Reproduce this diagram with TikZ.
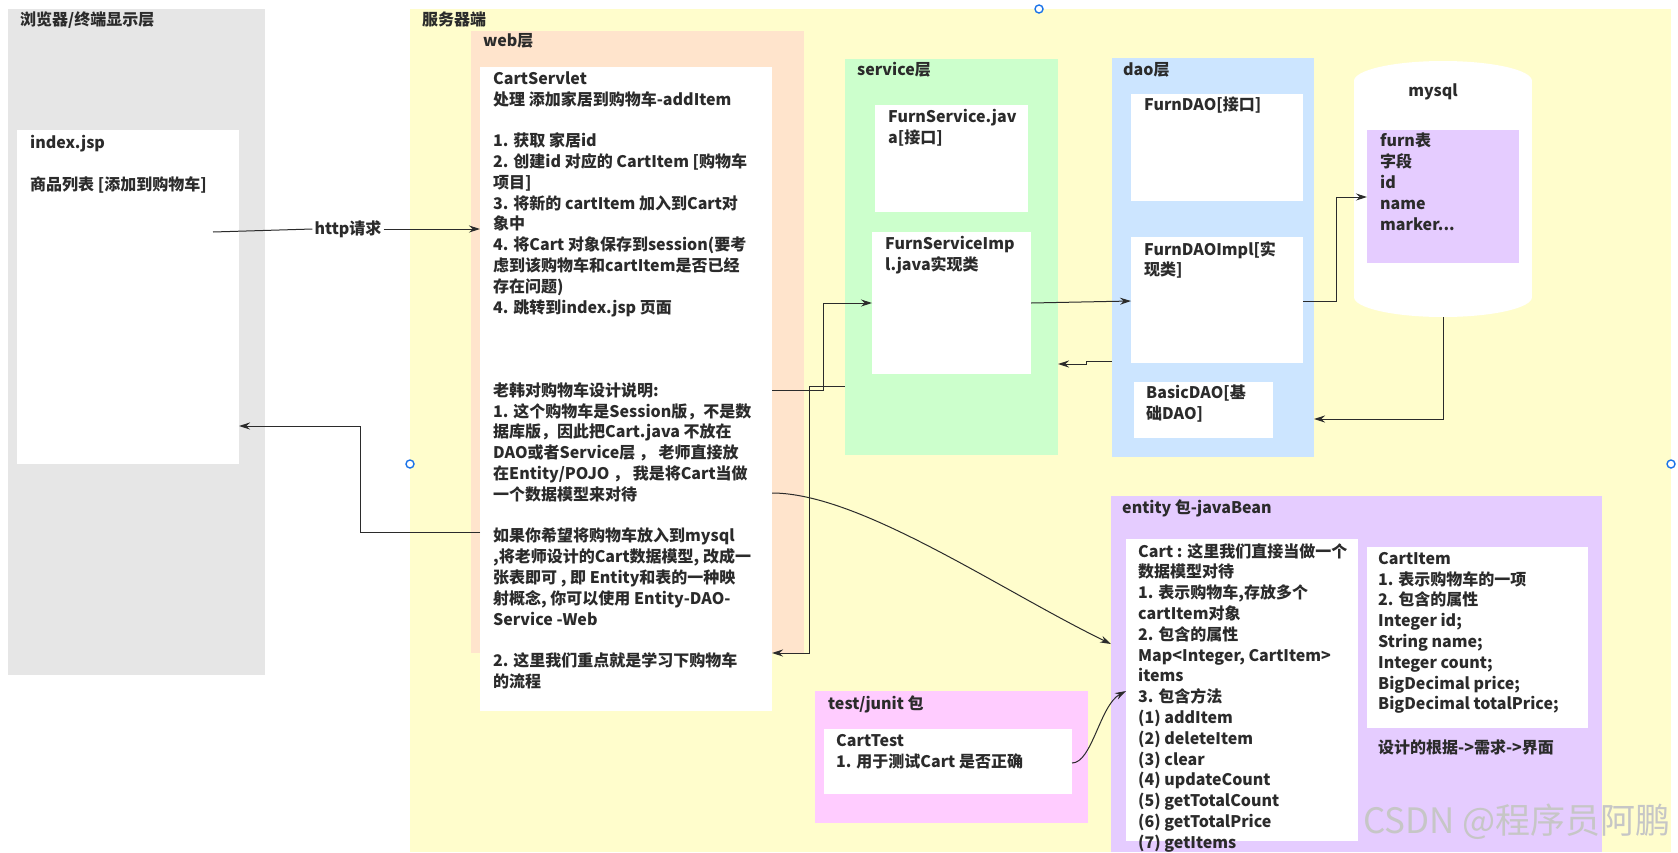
\documentclass[tikz,border=0pt]{standalone}
\usepackage{fontspec}
\setmainfont{Noto Sans CJK SC}
\usetikzlibrary{arrows.meta}
\definecolor{ink}{HTML}{2B2B2B}
\definecolor{browsergray}{HTML}{E6E6E6}
\definecolor{serveryellow}{HTML}{FFFDCC}
\definecolor{webpeach}{HTML}{FFE4CC}
\definecolor{svcgreen}{HTML}{CCFFCC}
\definecolor{daoblue}{HTML}{CCE5FF}
\definecolor{entpurple}{HTML}{E5CCFF}
\definecolor{testpink}{HTML}{FFCCFF}
\definecolor{handleblue}{HTML}{1A73E8}
\newcommand\topstrut{\rule{0pt}{13pt}}
\tikzset{
  panel/.style={anchor=north west, inner sep=0pt, outer sep=0pt},
  txt/.style={anchor=north west, inner sep=0pt, align=left, text=ink, font=\bfseries\fontsize{16}{20.8}\selectfont},
  wire/.style={draw=ink, line width=1pt},
  arr/.style={wire, -{Stealth[length=11pt, width=7pt]}},
  handle/.style={draw=handleblue, line width=1.4pt, fill=white}
}
\begin{document}
\begin{tikzpicture}[x=1pt, y=-1pt]
\useasboundingbox (0,0) rectangle (1678,852);
\fill[white] (0,0) rectangle (1678,852);
% browser side
\node[panel, fill=browsergray, minimum width=257pt, minimum height=666pt] (browser) at (8,9) {};
\node[txt] (browserlbl) at (20,12) {\topstrut 浏览器/终端显示层};
\node[panel, fill=white, minimum width=222pt, minimum height=334pt] (index) at (17,130) {};
\node[txt] (indextxt) at (30,135) {\topstrut index.jsp\\[20.8pt] 商品列表 [添加到购物车]};
% server side
\node[panel, fill=serveryellow, minimum width=1261pt, minimum height=843pt] (server) at (410,9) {};
\node[txt] (serverlbl) at (422,12) {\topstrut 服务器端};
% web layer
\node[panel, fill=webpeach, minimum width=333pt, minimum height=622pt] (web) at (471,31) {};
\node[txt] (weblbl) at (483,33) {\topstrut web层};
\node[panel, fill=white, minimum width=292pt, minimum height=644pt] (servlet) at (480,67) {};
\node[txt] (servlettxt) at (493,71) {\topstrut CartServlet\\
处理 添加家居到购物车-addItem\\[20.8pt]
1. 获取 家居id\\
2. 创建id 对应的 CartItem [购物车\\
项目]\\
3. 将新的 cartItem 加入到Cart对\\
象中\\
4. 将Cart 对象保存到session(要考\\
虑到该购物车和cartItem是否已经\\
存在问题)\\
4. 跳转到index.jsp 页面\\[62.4pt]
老韩对购物车设计说明:\\
1. 这个购物车是Session版，不是数\\
据库版，因此把Cart.java 不放在\\
DAO或者Service层 ， 老师直接放\\
在Entity/POJO ， 我是将Cart当做\\
一个数据模型来对待\\[20.8pt]
如果你希望将购物车放入到mysql\\
,将老师设计的Cart数据模型, 改成一\\
张表即可 , 即 Entity和表的一种映\\
射概念, 你可以使用 Entity-DAO-\\
Service -Web\\[20.8pt]
2. 这里我们重点就是学习下购物车\\
的流程};
% service layer
\node[panel, fill=svcgreen, minimum width=213pt, minimum height=396pt] (service) at (845,59) {};
\node[txt] (servicelbl) at (857,62) {\topstrut service层};
\node[panel, fill=white, minimum width=153pt, minimum height=107pt] (fsvc) at (875,105) {};
\node[txt] (fsvctxt) at (888,109) {\topstrut FurnService.jav\\ a[接口]};
\node[panel, fill=white, minimum width=159pt, minimum height=142pt] (fsvcimpl) at (872,232) {};
\node[txt] (fsvcimpltxt) at (885,236) {\topstrut FurnServiceImp\\ l.java实现类};
% dao layer
\node[panel, fill=daoblue, minimum width=202pt, minimum height=399pt] (dao) at (1112,58) {};
\node[txt] (daolbl) at (1123,62) {\topstrut dao层};
\node[panel, fill=white, minimum width=172pt, minimum height=107pt] (fdao) at (1131,94) {};
\node[txt] (fdaotxt) at (1144,97) {\topstrut FurnDAO[接口]};
\node[panel, fill=white, minimum width=172pt, minimum height=126pt] (fdaoimpl) at (1131,237) {};
\node[txt] (fdaoimpltxt) at (1144,241) {\topstrut FurnDAOImpl[实\\ 现类]};
\node[panel, fill=white, minimum width=139pt, minimum height=56pt] (basicdao) at (1134,382) {};
\node[txt] (basicdaotxt) at (1146,385) {\topstrut BasicDAO[基\\ 础DAO]};
% mysql cylinder
\fill[white] (1354,81) rectangle (1532,297);
\fill[white] (1443,81) ellipse [x radius=89pt, y radius=20pt];
\fill[white] (1443,297) ellipse [x radius=89pt, y radius=20pt];
\node[panel, minimum width=178pt, minimum height=256pt] (mysql) at (1354,61) {};
\node[txt, anchor=center] (mysqllbl) at (1433,92) {mysql};
\node[panel, fill=entpurple, minimum width=152pt, minimum height=133pt] (furntab) at (1367,130) {};
\node[txt] (furntabtxt) at (1380,133) {\topstrut furn表\\ 字段\\ id\\ name\\ marker...};
% entity package
\node[panel, fill=entpurple, minimum width=491pt, minimum height=356pt] (entity) at (1111,496) {};
\node[txt] (entitylbl) at (1122,500) {\topstrut entity 包-javaBean};
\node[panel, fill=white, minimum width=232pt, minimum height=302pt] (cart) at (1126,539) {};
\node[txt] (carttxt) at (1138,543) {\topstrut Cart : 这里我们直接当做一个\\
数据模型对待\\
1. 表示购物车,存放多个\\
cartItem对象\\
2. 包含的属性\\
Map<Integer, CartItem>\\
items\\
3. 包含方法\\
(1) addItem\\
(2) deleteItem\\
(3) clear\\
(4) updateCount\\
(5) getTotalCount\\
(6) getTotalPrice\\
(7) getItems};
\node[panel, fill=white, minimum width=221pt, minimum height=181pt] (cartitem) at (1367,547) {};
\node[txt] (cartitemtxt) at (1378,551) {\topstrut CartItem\\
1. 表示购物车的一项\\
2. 包含的属性\\
Integer id;\\
String name;\\
Integer count;\\
BigDecimal price;\\
BigDecimal totalPrice;};
\node[txt] (basis) at (1378,739) {\topstrut 设计的根据->需求->界面};
% test package
\node[panel, fill=testpink, minimum width=273pt, minimum height=132pt] (junit) at (815,691) {};
\node[txt] (junitlbl) at (828,696) {\topstrut test/junit 包};
\node[panel, fill=white, minimum width=248pt, minimum height=65pt] (carttest) at (824,729) {};
\node[txt] (carttesttxt) at (836,733) {\topstrut CartTest\\ 1. 用于测试Cart 是否正确};
% connectors
\coordinate (httpstart) at (213,232);
\node[txt, anchor=center, fill=white, inner sep=2pt] (http) at (348,229) {http请求};
\draw[wire] (httpstart) -- (http.west);
\draw[arr] (http.east) -- (servlet.west |- http.east);
\draw[arr] (servlet.west |- 0,532) -- (360,532) |- (index.east |- 0,426);
\draw[arr] (servlet.east |- 0,390) -- (823,390) |- (fsvcimpl.west |- 0,303);
\draw[arr] (service.west |- 0,386) -- (809,386) |- (servlet.east |- 0,653);
\draw[arr] (fsvcimpl.east |- 0,303) -- (fdaoimpl.west |- 0,301);
\draw[arr] (dao.west |- 0,361) -- (1086,361) -- (1086,364) -- (service.east |- 0,364);
\draw[arr] (fdaoimpl.east |- 0,301) -- (1336,301) |- (furntab.west |- 0,197);
\draw[arr] (mysql.south) |- (dao.east |- 0,419);
\draw[arr] (servlet.east |- 0,493) .. controls (860,493) and (1000,590) .. (entity.west |- 0,644);
\draw[arr] (carttest.east |- 0,763) .. controls (1092,763) and (1100,705) .. (cart.west |- 0,691);
% selection handles
\draw[handle] (1039,9) circle (4pt);
\draw[handle] (410,464) circle (4pt);
\draw[handle] (1671,464) circle (4pt);
% watermark
\node[anchor=west, inner sep=0pt, text=gray!45, font=\fontsize{35}{38}\selectfont] (mark) at (1363,822) {CSDN @程序员阿鹏};
\end{tikzpicture}
\end{document}
